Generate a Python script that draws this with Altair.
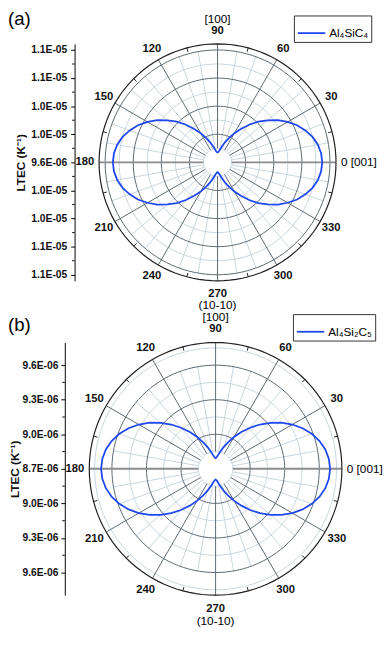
import altair as alt
import pandas as pd

FONT = "Liberation Sans"
BLUE = "#1f47ef"
DARK = "#5b6770"
LIGHT = "#c3d0da"
OUTER = "#1e1e1e"
HLINE = "#8c8c8c"

# ---------------- data ----------------
angles = list(range(0, 361, 5))  # polar angle, degrees

# LTEC (x1E-06 K^-1), every 5 degrees from 0 to 360
ltec_a = [11.09, 11.08, 11.05, 11.00, 10.93, 10.85, 10.75, 10.65, 10.53, 10.42, 10.30, 10.18, 10.08, 9.98, 9.90, 9.83, 9.78, 9.75, 9.74,
          9.75, 9.78, 9.83, 9.90, 9.98, 10.08, 10.18, 10.30, 10.42, 10.53, 10.65, 10.75, 10.85, 10.93, 11.00, 11.05, 11.08, 11.09,
          11.08, 11.05, 11.00, 10.93, 10.85, 10.75, 10.65, 10.53, 10.42, 10.30, 10.18, 10.08, 9.98, 9.90, 9.83, 9.78, 9.75, 9.74,
          9.75, 9.78, 9.83, 9.90, 9.98, 10.08, 10.18, 10.30, 10.42, 10.53, 10.65, 10.75, 10.85, 10.93, 11.00, 11.05, 11.08, 11.09]

# LTEC (x1E-06 K^-1)
ltec_b = [9.694, 9.687, 9.667, 9.634, 9.589, 9.533, 9.469, 9.398, 9.322, 9.244, 9.166, 9.090, 9.019, 8.954, 8.899, 8.854, 8.821, 8.800, 8.793,
          8.800, 8.821, 8.854, 8.899, 8.954, 9.019, 9.090, 9.166, 9.244, 9.322, 9.398, 9.469, 9.533, 9.589, 9.634, 9.667, 9.687, 9.694,
          9.687, 9.667, 9.634, 9.589, 9.533, 9.469, 9.398, 9.322, 9.244, 9.166, 9.090, 9.019, 8.954, 8.899, 8.854, 8.821, 8.800, 8.793,
          8.800, 8.821, 8.854, 8.899, 8.954, 9.019, 9.090, 9.166, 9.244, 9.322, 9.398, 9.469, 9.533, 9.589, 9.634, 9.667, 9.687, 9.694]

series_a = "Al₄SiC₄"
series_b = "Al₄Si₂C₅"

pole_a = 9.6  # value at the pole of panel (a)
ticks_a = [-1.6, -1.2, -0.8, -0.4, 0.0, 0.4, 0.8, 1.2, 1.6]
tick_labels_a = ["1.1E-05", "1.1E-05", "1.0E-05", "1.0E-05", "9.6E-06", "1.0E-05", "1.0E-05", "1.1E-05", "1.1E-05"]

pole_b = 8.7
ticks_b = [-0.9, -0.6, -0.3, 0.0, 0.3, 0.6, 0.9]
tick_labels_b = ["9.6E-06", "9.3E-06", "9.0E-06", "8.7E-06", "9.0E-06", "9.3E-06", "9.6E-06"]

angle_ticks = [0, 30, 60, 90, 120, 150, 180, 210, 240, 270, 300, 330]
angle_labels = ["0 [001]", "30", "60", "90", "120", "150", "180", "210", "240", "270", "300", "330"]
dir_angles = [90, 270]
dir_labels = ["[100]", "(10-10)"]
y_title = "LTEC (K⁻¹)"
panel_letters = ["(a)", "(b)"]

assert len(ltec_a) == len(angles) and len(ltec_b) == len(angles)

W, H = 384, 625


def label_expr(vals, labs):
    parts = [f"abs(datum.value - ({v})) < 1e-6 ? '{l}'" for v, l in zip(vals, labs)]
    return " : ".join(parts) + " : ''"


def panel(values, series, pole, ticks, tick_labels, step, step_px, outer_px,
          cx, cy, axis_x, legend_xy, letter, letter_xy, r_lab, r_side, r_dir,
          label_pad, title_pad):
    ppu = step_px / step
    R = outer_px / ppu
    xs = alt.Scale(domain=[-R, R], range=[cx - outer_px, cx + outer_px], nice=False, zero=False)
    ys = alt.Scale(domain=[-R, R], range=[cy + outer_px, cy - outer_px], nice=False, zero=False)
    yaxis = alt.Axis(
        orient="left", values=ticks, labelExpr=label_expr(ticks, tick_labels), offset=-axis_x,
        tickSize=4, tickColor="#000", domainColor="#000", tickWidth=1, domainWidth=1,
        labelFont=FONT, labelFontSize=10.5, labelFontWeight="bold", labelColor="#111",
        labelPadding=label_pad, labelOverlap=False, grid=False,
        title=y_title, titleFont=FONT, titleFontSize=12, titleFontWeight="bold",
        titleColor="#111", titlePadding=title_pad,
    )

    def X(f="x"):
        return alt.X(f"{f}:Q", scale=xs, axis=None)

    def Y(f="y"):
        return alt.Y(f"{f}:Q", scale=ys, axis=yaxis)

    pos_ticks = [t for t in ticks if t > 1e-9]
    majors = pos_ticks
    minors = [t - step / 2 for t in pos_ticks]
    if pos_ticks[-1] + step / 2 < R:
        minors.append(pos_ticks[-1] + step / 2)
    r_in = step / 2
    ring_angles = list(range(0, 361, 3))

    def rings(radii, color, width):
        df = pd.DataFrame([{"ring": r, "a": a} for r in radii for a in ring_angles])
        return alt.Chart(df).transform_calculate(
            x="datum.ring*cos(datum.a*PI/180)",
            y="datum.ring*sin(datum.a*PI/180)",
        ).mark_line(stroke=color, strokeWidth=width).encode(
            x=X(), y=Y(), detail="ring:N", order="a:Q")

    def spokes(angs, r0, r1, color, width):
        df = pd.DataFrame({"a": angs})
        return alt.Chart(df).transform_calculate(
            x=f"{r0}*cos(datum.a*PI/180)", y=f"{r0}*sin(datum.a*PI/180)",
            x2=f"{r1}*cos(datum.a*PI/180)", y2=f"{r1}*sin(datum.a*PI/180)",
        ).mark_rule(stroke=color, strokeWidth=width).encode(
            x=X(), y=Y(), x2=alt.X2("x2:Q"), y2=alt.Y2("y2:Q"))

    minor_angles = [a for a in range(0, 360, 10) if a % 30 != 0]
    major_angles = [a for a in angle_ticks if a not in (0, 180)]

    layers = [
        rings(minors, LIGHT, 0.9),
        spokes(minor_angles, r_in, majors[-1], LIGHT, 0.9),
        rings(majors, DARK, 1.0),
        spokes(major_angles, r_in, R, DARK, 1.0),
        spokes([0, 180], r_in, R, HLINE, 2.0),
        rings([R], OUTER, 1.2),
        spokes([a + 15 for a in angle_ticks], R - 4 / ppu, R, OUTER, 1.0),
    ]

    # minor ticks on the radial axis
    minor_ticks = [t + step / 2 for t in ticks[:-1]]
    layers.append(
        alt.Chart(pd.DataFrame({"y": minor_ticks})).mark_rule(stroke="#000", strokeWidth=1).encode(
            x=alt.value(axis_x - 2.5), x2=alt.value(axis_x), y=Y())
    )

    # curve
    df = pd.DataFrame({"angle": angles, "ltec": values})
    df["series"] = series
    layers.append(
        alt.Chart(df).transform_calculate(
            r=f"datum.ltec - {pole}",
            x="datum.r*cos(datum.angle*PI/180)",
            y="datum.r*sin(datum.angle*PI/180)",
        ).mark_line(strokeWidth=1.8).encode(
            x=X(),
            y=Y(),
            order="angle:Q",
            color=alt.Color(
                "series:N",
                scale=alt.Scale(domain=[series], range=[BLUE]),
                legend=alt.Legend(
                    title=None, orient="none", legendX=legend_xy[0], legendY=legend_xy[1],
                    symbolType="stroke", symbolSize=784, symbolStrokeWidth=1.8,
                    labelFont=FONT, labelFontSize=12, labelColor="#000", labelOffset=3,
                    strokeColor="#333", fillColor="white", padding=3, cornerRadius=0,
                ),
            ),
        )
    )

    # angle labels
    lab = pd.DataFrame({"angle": angle_ticks, "text": angle_labels})
    base = alt.Chart(lab)
    layers.append(
        base.transform_filter("datum.angle != 0 && datum.angle != 180").transform_calculate(
            x=f"{r_lab / ppu}*cos(datum.angle*PI/180)", y=f"{r_lab / ppu}*sin(datum.angle*PI/180)"
        ).mark_text(font=FONT, fontSize=11.5, fontWeight="bold", align="center", baseline="middle",
                    color="#111").encode(x=X(), y=Y(), text="text:N")
    )
    layers.append(
        base.transform_filter("datum.angle == 0").transform_calculate(
            x=f"{r_side / ppu}", y="0"
        ).mark_text(font=FONT, fontSize=12, align="left", baseline="middle", color="#000").encode(
            x=X(), y=Y(), text="text:N")
    )
    layers.append(
        base.transform_filter("datum.angle == 180").transform_calculate(
            x=f"{-r_side / ppu}", y="0"
        ).mark_text(font=FONT, fontSize=11.5, fontWeight="bold", align="right", baseline="middle",
                    color="#111").encode(x=X(), y=Y(), text="text:N")
    )
    dirs = pd.DataFrame({"angle": dir_angles, "text": dir_labels})
    layers.append(
        alt.Chart(dirs).transform_calculate(
            x=f"{r_dir / ppu}*cos(datum.angle*PI/180)", y=f"{r_dir / ppu}*sin(datum.angle*PI/180)"
        ).mark_text(font=FONT, fontSize=12, align="center", baseline="middle", color="#000").encode(
            x=X(), y=Y(), text="text:N")
    )
    # panel letter
    layers.append(
        alt.Chart(pd.DataFrame({"t": [letter]})).mark_text(
            font=FONT, fontSize=19, align="left", baseline="top", color="#000"
        ).encode(x=alt.value(letter_xy[0]), y=alt.value(letter_xy[1]), text="t:N")
    )

    return alt.layer(*layers)


pa = panel(ltec_a, series_a, pole_a, ticks_a, tick_labels_a, 0.4, 28.7, 121,
           214, 151, 68, (292, 1), panel_letters[0], (0, -4), 134, 126, 146, 4, 3)
pb = panel(ltec_b, series_b, pole_b, ticks_b, tick_labels_b, 0.3, 35.3, 129,
           212, 464, 58, (291, 306), panel_letters[1], (0, 308), 143, 134, 155, 3, 1)

chart = alt.layer(pa, pb).resolve_scale(
    x="independent", y="independent", color="independent"
).resolve_axis(y="independent").resolve_legend(color="independent").properties(
    width=W, height=H, autosize=alt.AutoSizeParams(type="none"), padding=0, background="white"
).configure_view(stroke=None)

chart.save("out.html", embed_options={"renderer": "svg", "actions": False})
